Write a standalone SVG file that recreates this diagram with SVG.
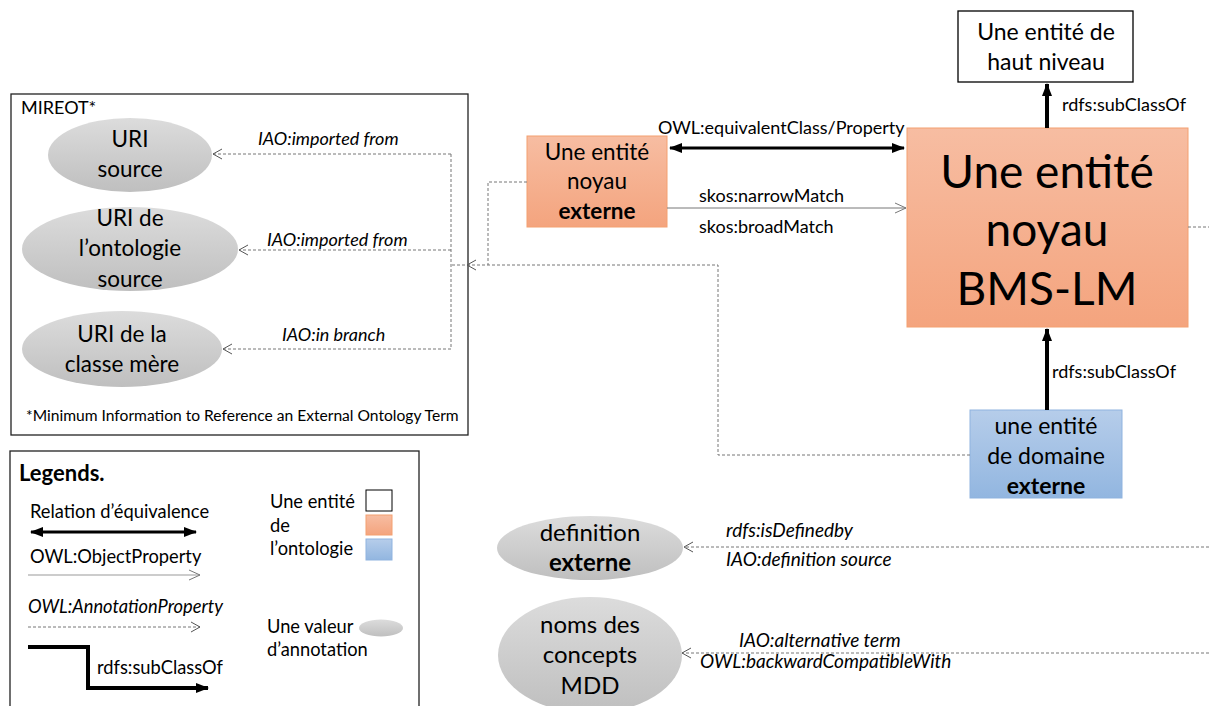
<svg xmlns="http://www.w3.org/2000/svg" width="1209" height="706" viewBox="0 0 1209 706">
<defs>
<linearGradient id="gOr" x1="0" y1="0" x2="0" y2="1"><stop offset="0" stop-color="#f7bda2"/><stop offset="1" stop-color="#f4a47e"/></linearGradient>
<linearGradient id="gBl" x1="0" y1="0" x2="0" y2="1"><stop offset="0" stop-color="#b6cdea"/><stop offset="1" stop-color="#92b6e0"/></linearGradient>
<linearGradient id="gGr" x1="0" y1="0" x2="0" y2="1"><stop offset="0" stop-color="#dcdcdc"/><stop offset="1" stop-color="#bfbfbf"/></linearGradient>
<marker id="open" markerWidth="12" markerHeight="12" refX="10" refY="6" orient="auto" markerUnits="userSpaceOnUse"><path d="M1,1 L10,6 L1,11" fill="none" stroke="#555" stroke-width="1"/></marker>
<marker id="openG" markerWidth="14" markerHeight="12" refX="12" refY="6" orient="auto" markerUnits="userSpaceOnUse"><path d="M1,1 L12,6 L1,11" fill="none" stroke="#777" stroke-width="1"/></marker>
<marker id="solid" markerWidth="14" markerHeight="12" refX="12" refY="6" orient="auto-start-reverse" markerUnits="userSpaceOnUse"><path d="M0,1 L13,6 L0,11 Z" fill="#000"/></marker>
</defs>
<style>
text{font-family:Lato,"Open Sans","Liberation Sans",sans-serif;fill:#000}
.lbl{font-size:18px}
.lg{font-size:18.3px}
.it{font-style:italic}
.b{font-weight:bold}
.ell{fill:url(#gGr)}
.ot{font-size:22.5px;text-anchor:middle}
.ob{font-size:24px;text-anchor:middle}
.bx{font-size:22.5px;text-anchor:middle}
.dash{fill:none;stroke:#777;stroke-width:1;stroke-dasharray:3,2}
.thick{fill:none;stroke:#000;stroke-width:4}
</style>
<rect width="1209" height="706" fill="#fff"/>

<g id="mireot">
<rect x="11" y="94" width="457" height="341" fill="none" stroke="#222" stroke-width="1.3"/>
<text x="21" y="114" class="lbl">MIREOT*</text>
<text x="26" y="421" font-size="15.6">*Minimum Information to Reference an External Ontology Term</text>
</g>
<g id="uri-source">
<ellipse cx="130" cy="155" rx="82" ry="37" class="ell"/>
<text class="ot" x="130" y="147">URI</text>
<text class="ot" x="130" y="177">source</text>
</g>
<g id="uri-ontologie">
<ellipse cx="130" cy="249" rx="108" ry="42" class="ell"/>
<text class="ot" x="130" y="226">URI de</text>
<text class="ot" x="130" y="256">l’ontologie</text>
<text class="ot" x="130" y="287">source</text>
</g>
<g id="uri-classe">
<ellipse cx="122" cy="349" rx="100" ry="38" class="ell"/>
<text class="ot" x="122" y="342">URI de la</text>
<text class="ot" x="122" y="372">classe mère</text>
</g>

<g id="noyau-externe">
<rect x="527" y="136" width="140" height="91" fill="url(#gOr)" stroke="#f4a070" stroke-width="1"/>
<text x="597" y="160" class="bx">Une entité</text>
<text x="597" y="189" class="bx">noyau</text>
<text x="597" y="219" class="bx b">externe</text>
</g>
<g id="noyau-bms">
<rect x="907" y="128" width="281" height="199" fill="url(#gOr)" stroke="#f4a070" stroke-width="1"/>
<text x="1047" y="188" font-size="46" text-anchor="middle">Une entité</text>
<text x="1047" y="246" font-size="46" text-anchor="middle">noyau</text>
<text x="1047" y="305" font-size="46" text-anchor="middle">BMS-LM</text>
</g>
<g id="haut-niveau">
<rect x="958" y="11" width="175" height="71" fill="#fff" stroke="#000" stroke-width="1.3"/>
<text x="1046" y="40" font-size="23" text-anchor="middle">Une entité de</text>
<text x="1046" y="70" font-size="23" text-anchor="middle">haut niveau</text>
</g>
<g id="domaine-externe">
<rect x="970" y="410" width="152" height="88" fill="url(#gBl)" stroke="#8fb3df" stroke-width="1"/>
<text x="1046" y="434" font-size="23" text-anchor="middle">une entité</text>
<text x="1046" y="464" font-size="23" text-anchor="middle">de domaine</text>
<text x="1046" y="494" font-size="23" text-anchor="middle" class="b">externe</text>
</g>
<g id="definition-externe">
<ellipse cx="590" cy="548" rx="93" ry="32" class="ell"/>
<text class="ob" x="590" y="541">definition</text>
<text class="ob b" x="590" y="571">externe</text>
</g>
<g id="noms-concepts">
<ellipse cx="590" cy="655" rx="92" ry="58" class="ell"/>
<text class="ob" x="590" y="633">noms des</text>
<text class="ob" x="590" y="663">concepts</text>
<text class="ob" x="590" y="694">MDD</text>
</g>

<g id="connectors">
<path class="dash" d="M451,154 L213,154" marker-end="url(#open)"/>
<path class="dash" d="M451,250 L239,250" marker-end="url(#open)"/>
<path class="dash" d="M451,349 L223,349" marker-end="url(#open)"/>
<path class="dash" d="M451,154 L451,349"/>
<path class="dash" d="M527,182 L488,182 L488,265"/>
<path class="dash" d="M970,455 L718,455 L718,265 L451,265"/>
<path class="dash" d="M470,265 L467,265" marker-end="url(#open)"/>
<path class="dash" d="M1188,227 L1209,227"/>
<path class="dash" d="M1209,547 L684,547" marker-end="url(#open)"/>
<path class="dash" d="M1209,653 L682,653" marker-end="url(#open)"/>
<path d="M670,148 L904,148" fill="none" stroke="#000" stroke-width="3" marker-start="url(#solid)" marker-end="url(#solid)"/>
<path d="M667,208 L906,208" fill="none" stroke="#777" stroke-width="1" marker-end="url(#openG)"/>
<path class="thick" d="M1047,128 L1047,84" marker-end="url(#solid)"/>
<path class="thick" d="M1047,410 L1047,329" marker-end="url(#solid)"/>
<text x="258" y="145" class="lbl it">IAO:imported from</text>
<text x="267" y="246" class="lbl it">IAO:imported from</text>
<text x="282" y="341" class="lbl it">IAO:in branch</text>
<text x="658" y="134" class="lbl">OWL:equivalentClass/Property</text>
<text x="699" y="202" class="lbl">skos:narrowMatch</text>
<text x="699" y="233" class="lbl">skos:broadMatch</text>
<text x="1062" y="111" class="lbl">rdfs:subClassOf</text>
<text x="1052" y="378" class="lbl">rdfs:subClassOf</text>
<text x="726" y="537" font-size="19" class="it">rdfs:isDefinedby</text>
<text x="726" y="566" font-size="19" class="it">IAO:definition source</text>
<text x="739" y="647" font-size="19" class="it">IAO:alternative term</text>
<text x="700" y="668" font-size="19" class="it">OWL:backwardCompatibleWith</text>
</g>

<g id="legend">
<rect x="10" y="451" width="409" height="260" fill="none" stroke="#222" stroke-width="1.3"/>
<text x="19" y="481" font-size="22" class="b">Legends.</text>
<text x="30" y="518" class="lg">Relation d’équivalence</text>
<path d="M31,532 L196,532" fill="none" stroke="#000" stroke-width="3" marker-start="url(#solid)" marker-end="url(#solid)"/>
<text x="30" y="563" class="lg">OWL:ObjectProperty</text>
<path d="M28,575 L200,575" fill="none" stroke="#999" stroke-width="1" marker-end="url(#openG)"/>
<text x="28" y="613" class="lg it">OWL:AnnotationProperty</text>
<path class="dash" d="M28,627 L200,627" marker-end="url(#open)"/>
<path class="thick" d="M28,647 L88,647 L88,688 L208,688" marker-end="url(#solid)"/>
<text x="97" y="674" class="lg">rdfs:subClassOf</text>
<text x="270" y="508" class="lg">Une entité</text>
<text x="270" y="532" class="lg">de</text>
<text x="270" y="555" class="lg">l’ontologie</text>
<rect x="366" y="490" width="26" height="21" fill="#fff" stroke="#000" stroke-width="1"/>
<rect x="366" y="515" width="26" height="20" fill="url(#gOr)" stroke="#f4a070" stroke-width="1"/>
<rect x="366" y="539" width="26" height="21" fill="url(#gBl)" stroke="#8fb3df" stroke-width="1"/>
<text x="267" y="633" class="lg">Une valeur</text>
<text x="267" y="656" class="lg">d’annotation</text>
<ellipse cx="381" cy="628" rx="22" ry="8.5" class="ell"/>
</g>
</svg>
